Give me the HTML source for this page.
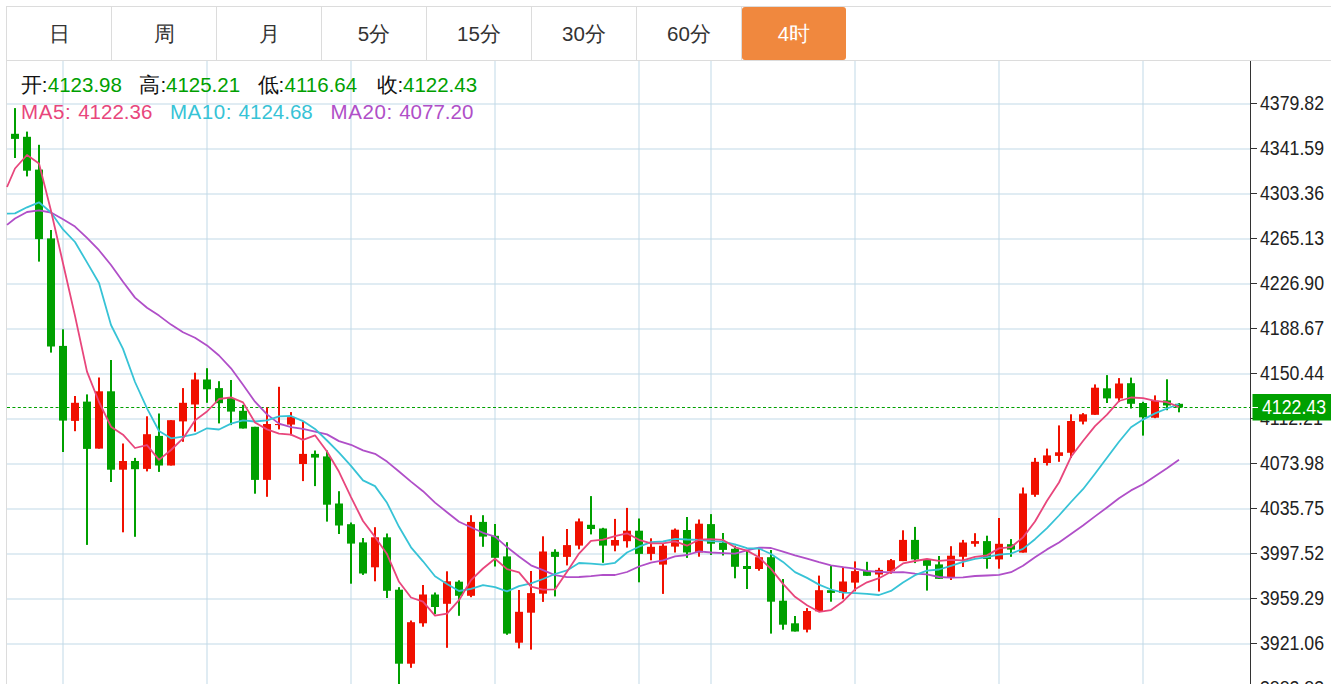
<!DOCTYPE html>
<html><head><meta charset="utf-8"><style>
html,body{margin:0;padding:0;background:#fff;width:1331px;height:684px;overflow:hidden;font-family:"Liberation Sans",sans-serif;}
.bar{position:absolute;left:6px;top:6px;width:1330px;height:53px;border:1px solid #dcdcdc;border-right:none;}
.tab{position:absolute;top:0;height:53px;width:104px;border-right:1px solid #dcdcdc;text-align:center;line-height:53px;font-size:20.5px;color:#333;}
.tab.on{background:#f0883e;color:#fff;border-radius:3px;border-right:none;top:0;height:53px;}
.chart{position:absolute;left:6px;top:60px;width:1325px;height:624px;border-left:1px solid #dcdcdc;}
svg{position:absolute;left:0;top:0;}
.ax{font-family:"Liberation Sans",sans-serif;font-size:18px;fill:#222;}
.lg{position:absolute;font-size:20.5px;line-height:24px;white-space:pre;}
</style></head><body>
<div class="bar"><div style="left:0px" class="tab">日</div><div style="left:105px" class="tab">周</div><div style="left:210px" class="tab">月</div><div style="left:315px" class="tab">5分</div><div style="left:420px" class="tab">15分</div><div style="left:525px" class="tab">30分</div><div style="left:630px" class="tab">60分</div><div style="left:735px" class="tab on">4时</div></div>
<div class="chart"></div>
<svg width="1331" height="684" viewBox="0 0 1331 684">
<line x1="7" y1="104" x2="1250" y2="104" stroke="#c1d9e7" stroke-width="1"/>
<line x1="7" y1="149" x2="1250" y2="149" stroke="#c1d9e7" stroke-width="1"/>
<line x1="7" y1="194" x2="1250" y2="194" stroke="#c1d9e7" stroke-width="1"/>
<line x1="7" y1="239" x2="1250" y2="239" stroke="#c1d9e7" stroke-width="1"/>
<line x1="7" y1="284" x2="1250" y2="284" stroke="#c1d9e7" stroke-width="1"/>
<line x1="7" y1="329" x2="1250" y2="329" stroke="#c1d9e7" stroke-width="1"/>
<line x1="7" y1="374" x2="1250" y2="374" stroke="#c1d9e7" stroke-width="1"/>
<line x1="7" y1="419" x2="1250" y2="419" stroke="#c1d9e7" stroke-width="1"/>
<line x1="7" y1="464" x2="1250" y2="464" stroke="#c1d9e7" stroke-width="1"/>
<line x1="7" y1="509" x2="1250" y2="509" stroke="#c1d9e7" stroke-width="1"/>
<line x1="7" y1="554" x2="1250" y2="554" stroke="#c1d9e7" stroke-width="1"/>
<line x1="7" y1="599" x2="1250" y2="599" stroke="#c1d9e7" stroke-width="1"/>
<line x1="7" y1="644" x2="1250" y2="644" stroke="#c1d9e7" stroke-width="1"/>
<line x1="7" y1="689" x2="1250" y2="689" stroke="#c1d9e7" stroke-width="1"/>
<line x1="63" y1="61" x2="63" y2="684" stroke="#c1d9e7" stroke-width="1"/>
<line x1="207" y1="61" x2="207" y2="684" stroke="#c1d9e7" stroke-width="1"/>
<line x1="351" y1="61" x2="351" y2="684" stroke="#c1d9e7" stroke-width="1"/>
<line x1="495" y1="61" x2="495" y2="684" stroke="#c1d9e7" stroke-width="1"/>
<line x1="639" y1="61" x2="639" y2="684" stroke="#c1d9e7" stroke-width="1"/>
<line x1="711" y1="61" x2="711" y2="684" stroke="#c1d9e7" stroke-width="1"/>
<line x1="855" y1="61" x2="855" y2="684" stroke="#c1d9e7" stroke-width="1"/>
<line x1="999" y1="61" x2="999" y2="684" stroke="#c1d9e7" stroke-width="1"/>
<line x1="1143" y1="61" x2="1143" y2="684" stroke="#c1d9e7" stroke-width="1"/>
<line x1="7" y1="407.5" x2="1250" y2="407.5" stroke="#00a000" stroke-width="1" stroke-dasharray="3,2.4"/>
<rect x="14" y="108.1" width="2" height="49.900000000000006" fill="#00a000"/>
<rect x="11" y="133.8" width="8" height="5.099999999999994" fill="#00a000"/>
<rect x="26" y="131.6" width="2" height="44.80000000000001" fill="#00a000"/>
<rect x="23" y="136.8" width="8" height="33.89999999999998" fill="#00a000"/>
<rect x="38" y="144.8" width="2" height="116.80000000000001" fill="#00a000"/>
<rect x="35" y="169.6" width="8" height="69.5" fill="#00a000"/>
<rect x="50" y="230" width="2" height="122.60000000000002" fill="#00a000"/>
<rect x="47" y="238.4" width="8" height="108.1" fill="#00a000"/>
<rect x="62" y="329.3" width="2" height="122.69999999999999" fill="#00a000"/>
<rect x="59" y="345.9" width="8" height="74.70000000000005" fill="#00a000"/>
<rect x="74" y="396" width="2" height="35.19999999999999" fill="#f01000"/>
<rect x="71" y="402.8" width="8" height="18.099999999999966" fill="#f01000"/>
<rect x="86" y="394.4" width="2" height="150.5" fill="#00a000"/>
<rect x="83" y="401.6" width="8" height="47.299999999999955" fill="#00a000"/>
<rect x="98" y="377.5" width="2" height="71.10000000000002" fill="#f01000"/>
<rect x="95" y="391.3" width="8" height="57.30000000000001" fill="#f01000"/>
<rect x="110" y="360" width="2" height="122" fill="#00a000"/>
<rect x="107" y="391.3" width="8" height="78.39999999999998" fill="#00a000"/>
<rect x="122" y="443.5" width="2" height="88.79999999999995" fill="#f01000"/>
<rect x="119" y="461" width="8" height="8.699999999999989" fill="#f01000"/>
<rect x="134" y="457.9" width="2" height="78.89999999999998" fill="#00a000"/>
<rect x="131" y="461" width="8" height="8.199999999999989" fill="#00a000"/>
<rect x="146" y="416.3" width="2" height="55.099999999999966" fill="#f01000"/>
<rect x="143" y="434.2" width="8" height="34.69999999999999" fill="#f01000"/>
<rect x="158" y="413.5" width="2" height="58.39999999999998" fill="#00a000"/>
<rect x="155" y="435.9" width="8" height="29.600000000000023" fill="#00a000"/>
<rect x="170" y="420.2" width="2" height="45.30000000000001" fill="#f01000"/>
<rect x="167" y="420.2" width="8" height="45.30000000000001" fill="#f01000"/>
<rect x="182" y="388.1" width="2" height="53.69999999999999" fill="#f01000"/>
<rect x="179" y="402.8" width="8" height="18.599999999999966" fill="#f01000"/>
<rect x="194" y="372.7" width="2" height="58.900000000000034" fill="#f01000"/>
<rect x="191" y="379.5" width="8" height="25.0" fill="#f01000"/>
<rect x="206" y="368.2" width="2" height="34.60000000000002" fill="#00a000"/>
<rect x="203" y="379.5" width="8" height="9.800000000000011" fill="#00a000"/>
<rect x="218" y="381.2" width="2" height="42.19999999999999" fill="#00a000"/>
<rect x="215" y="388.1" width="8" height="15.099999999999966" fill="#00a000"/>
<rect x="230" y="380" width="2" height="45.10000000000002" fill="#00a000"/>
<rect x="227" y="398.1" width="8" height="13.5" fill="#00a000"/>
<rect x="242" y="404.9" width="2" height="23.600000000000023" fill="#00a000"/>
<rect x="239" y="410.8" width="8" height="17.69999999999999" fill="#00a000"/>
<rect x="254" y="426.8" width="2" height="66.89999999999998" fill="#00a000"/>
<rect x="251" y="426.8" width="8" height="53.099999999999966" fill="#00a000"/>
<rect x="266" y="407.4" width="2" height="89.40000000000003" fill="#f01000"/>
<rect x="263" y="424" width="8" height="55.89999999999998" fill="#f01000"/>
<rect x="278" y="386.8" width="2" height="42.599999999999966" fill="#f01000"/>
<rect x="275" y="424" width="8" height="1.1000000000000227" fill="#f01000"/>
<rect x="290" y="412.1" width="2" height="23.19999999999999" fill="#f01000"/>
<rect x="287" y="417.2" width="8" height="7.400000000000034" fill="#f01000"/>
<rect x="302" y="421.8" width="2" height="59.30000000000001" fill="#f01000"/>
<rect x="299" y="453.9" width="8" height="10.100000000000023" fill="#f01000"/>
<rect x="314" y="450.5" width="2" height="35.60000000000002" fill="#00a000"/>
<rect x="311" y="453.9" width="8" height="3.7000000000000455" fill="#00a000"/>
<rect x="326" y="450.5" width="2" height="71.10000000000002" fill="#00a000"/>
<rect x="323" y="456.4" width="8" height="48.30000000000001" fill="#00a000"/>
<rect x="338" y="491.2" width="2" height="42.80000000000001" fill="#00a000"/>
<rect x="335" y="503.5" width="8" height="22.0" fill="#00a000"/>
<rect x="350" y="522.5" width="2" height="61.200000000000045" fill="#00a000"/>
<rect x="347" y="524.2" width="8" height="19.399999999999977" fill="#00a000"/>
<rect x="362" y="538" width="2" height="36.89999999999998" fill="#00a000"/>
<rect x="359" y="542.4" width="8" height="31.100000000000023" fill="#00a000"/>
<rect x="374" y="527.2" width="2" height="54.09999999999991" fill="#f01000"/>
<rect x="371" y="537.3" width="8" height="30.0" fill="#f01000"/>
<rect x="386" y="533.5" width="2" height="64.5" fill="#00a000"/>
<rect x="383" y="537.3" width="8" height="53.5" fill="#00a000"/>
<rect x="398" y="587.2" width="2" height="96.79999999999995" fill="#00a000"/>
<rect x="395" y="589.7" width="8" height="74.0" fill="#00a000"/>
<rect x="410" y="620.5" width="2" height="47.299999999999955" fill="#f01000"/>
<rect x="407" y="622.2" width="8" height="41.5" fill="#f01000"/>
<rect x="422" y="585" width="2" height="41.700000000000045" fill="#f01000"/>
<rect x="419" y="594.5" width="8" height="28.799999999999955" fill="#f01000"/>
<rect x="434" y="592.5" width="2" height="21.700000000000045" fill="#00a000"/>
<rect x="431" y="594.5" width="8" height="12.5" fill="#00a000"/>
<rect x="446" y="571.3" width="2" height="76.5" fill="#f01000"/>
<rect x="443" y="581.3" width="8" height="22.5" fill="#f01000"/>
<rect x="458" y="580.3" width="2" height="35.5" fill="#00a000"/>
<rect x="455" y="581.7" width="8" height="14.099999999999909" fill="#00a000"/>
<rect x="470" y="515.2" width="2" height="82.0" fill="#f01000"/>
<rect x="467" y="521.9" width="8" height="73.89999999999998" fill="#f01000"/>
<rect x="482" y="515.2" width="2" height="31.59999999999991" fill="#00a000"/>
<rect x="479" y="521.9" width="8" height="14.700000000000045" fill="#00a000"/>
<rect x="494" y="524" width="2" height="42.5" fill="#00a000"/>
<rect x="491" y="535.8" width="8" height="22.0" fill="#00a000"/>
<rect x="506" y="542.2" width="2" height="92.59999999999991" fill="#00a000"/>
<rect x="503" y="556.4" width="8" height="77.20000000000005" fill="#00a000"/>
<rect x="518" y="590" width="2" height="58.39999999999998" fill="#f01000"/>
<rect x="515" y="611.8" width="8" height="30.90000000000009" fill="#f01000"/>
<rect x="530" y="571" width="2" height="78.60000000000002" fill="#f01000"/>
<rect x="527" y="593.1" width="8" height="19.600000000000023" fill="#f01000"/>
<rect x="542" y="536.3" width="2" height="65.60000000000002" fill="#f01000"/>
<rect x="539" y="551.5" width="8" height="42.200000000000045" fill="#f01000"/>
<rect x="554" y="549.3" width="2" height="47.10000000000002" fill="#00a000"/>
<rect x="551" y="551.8" width="8" height="5.100000000000023" fill="#00a000"/>
<rect x="566" y="529" width="2" height="36.39999999999998" fill="#f01000"/>
<rect x="563" y="545.1" width="8" height="11.799999999999955" fill="#f01000"/>
<rect x="578" y="518.5" width="2" height="30.799999999999955" fill="#f01000"/>
<rect x="575" y="521.4" width="8" height="24.200000000000045" fill="#f01000"/>
<rect x="590" y="496.1" width="2" height="38.299999999999955" fill="#00a000"/>
<rect x="587" y="524.8" width="8" height="4.2000000000000455" fill="#00a000"/>
<rect x="602" y="527.8" width="2" height="35.0" fill="#00a000"/>
<rect x="599" y="528.5" width="8" height="17.100000000000023" fill="#00a000"/>
<rect x="614" y="518.9" width="2" height="32.39999999999998" fill="#f01000"/>
<rect x="611" y="540" width="8" height="5.600000000000023" fill="#f01000"/>
<rect x="626" y="507.9" width="2" height="39.700000000000045" fill="#f01000"/>
<rect x="623" y="530.7" width="8" height="10.5" fill="#f01000"/>
<rect x="638" y="518.5" width="2" height="63.799999999999955" fill="#00a000"/>
<rect x="635" y="530.7" width="8" height="23.199999999999932" fill="#00a000"/>
<rect x="650" y="538.3" width="2" height="22.0" fill="#f01000"/>
<rect x="647" y="546.8" width="8" height="7.100000000000023" fill="#f01000"/>
<rect x="662" y="544" width="2" height="49.89999999999998" fill="#f01000"/>
<rect x="659" y="545.7" width="8" height="18.899999999999977" fill="#f01000"/>
<rect x="674" y="528.5" width="2" height="24.0" fill="#f01000"/>
<rect x="671" y="529.7" width="8" height="16.899999999999977" fill="#f01000"/>
<rect x="686" y="517" width="2" height="40.89999999999998" fill="#00a000"/>
<rect x="683" y="530" width="8" height="22.5" fill="#00a000"/>
<rect x="698" y="519.5" width="2" height="37.200000000000045" fill="#f01000"/>
<rect x="695" y="523.7" width="8" height="28.799999999999955" fill="#f01000"/>
<rect x="710" y="514.1" width="2" height="40.89999999999998" fill="#00a000"/>
<rect x="707" y="524.1" width="8" height="19.600000000000023" fill="#00a000"/>
<rect x="722" y="533" width="2" height="22.5" fill="#00a000"/>
<rect x="719" y="542.8" width="8" height="7.100000000000023" fill="#00a000"/>
<rect x="734" y="545.7" width="2" height="32.59999999999991" fill="#00a000"/>
<rect x="731" y="548.8" width="8" height="18.0" fill="#00a000"/>
<rect x="746" y="550.8" width="2" height="38.200000000000045" fill="#00a000"/>
<rect x="743" y="566" width="8" height="3" fill="#00a000"/>
<rect x="758" y="548.8" width="2" height="21.90000000000009" fill="#f01000"/>
<rect x="755" y="557.2" width="8" height="11.799999999999955" fill="#f01000"/>
<rect x="770" y="550" width="2" height="83.60000000000002" fill="#00a000"/>
<rect x="767" y="557.2" width="8" height="44.5" fill="#00a000"/>
<rect x="782" y="579" width="2" height="50.700000000000045" fill="#00a000"/>
<rect x="779" y="600.7" width="8" height="24.0" fill="#00a000"/>
<rect x="794" y="616" width="2" height="15.5" fill="#00a000"/>
<rect x="791" y="623.3" width="8" height="8.200000000000045" fill="#00a000"/>
<rect x="806" y="608.1" width="2" height="24.299999999999955" fill="#f01000"/>
<rect x="803" y="611" width="8" height="18.700000000000045" fill="#f01000"/>
<rect x="818" y="575.6" width="2" height="35.69999999999993" fill="#f01000"/>
<rect x="815" y="590.2" width="8" height="21.09999999999991" fill="#f01000"/>
<rect x="830" y="565.7" width="2" height="36.0" fill="#00a000"/>
<rect x="827" y="590.2" width="8" height="2.699999999999932" fill="#00a000"/>
<rect x="842" y="566.8" width="2" height="32.40000000000009" fill="#f01000"/>
<rect x="839" y="581.5" width="8" height="11.399999999999977" fill="#f01000"/>
<rect x="854" y="561.4" width="2" height="29.899999999999977" fill="#f01000"/>
<rect x="851" y="571.1" width="8" height="11.5" fill="#f01000"/>
<rect x="866" y="561.8" width="2" height="14.0" fill="#00a000"/>
<rect x="863" y="571.1" width="8" height="4.699999999999932" fill="#00a000"/>
<rect x="878" y="567.8" width="2" height="23.700000000000045" fill="#f01000"/>
<rect x="875" y="569.9" width="8" height="4.600000000000023" fill="#f01000"/>
<rect x="890" y="559" width="2" height="14.700000000000045" fill="#f01000"/>
<rect x="887" y="560.2" width="8" height="11.0" fill="#f01000"/>
<rect x="902" y="530.3" width="2" height="30.800000000000068" fill="#f01000"/>
<rect x="899" y="539.9" width="8" height="21.200000000000045" fill="#f01000"/>
<rect x="914" y="526.9" width="2" height="36.200000000000045" fill="#00a000"/>
<rect x="911" y="539.9" width="8" height="19.5" fill="#00a000"/>
<rect x="926" y="559.4" width="2" height="31.200000000000045" fill="#00a000"/>
<rect x="923" y="559.4" width="8" height="6.399999999999977" fill="#00a000"/>
<rect x="938" y="556" width="2" height="22.799999999999955" fill="#00a000"/>
<rect x="935" y="564.4" width="8" height="14.399999999999977" fill="#00a000"/>
<rect x="950" y="546.2" width="2" height="33.799999999999955" fill="#f01000"/>
<rect x="947" y="555.7" width="8" height="21.899999999999977" fill="#f01000"/>
<rect x="962" y="539.9" width="2" height="27.100000000000023" fill="#f01000"/>
<rect x="959" y="542.5" width="8" height="14.299999999999955" fill="#f01000"/>
<rect x="974" y="533.2" width="2" height="13.5" fill="#f01000"/>
<rect x="971" y="541.1" width="8" height="2.699999999999932" fill="#f01000"/>
<rect x="986" y="535.7" width="2" height="33.0" fill="#00a000"/>
<rect x="983" y="541.1" width="8" height="17.899999999999977" fill="#00a000"/>
<rect x="998" y="518" width="2" height="50.700000000000045" fill="#f01000"/>
<rect x="995" y="543.8" width="8" height="15.600000000000023" fill="#f01000"/>
<rect x="1010" y="539.1" width="2" height="17.699999999999932" fill="#00a000"/>
<rect x="1007" y="544.2" width="8" height="5.399999999999977" fill="#00a000"/>
<rect x="1022" y="487.5" width="2" height="65.10000000000002" fill="#f01000"/>
<rect x="1019" y="493.5" width="8" height="59.10000000000002" fill="#f01000"/>
<rect x="1034" y="457.9" width="2" height="38.900000000000034" fill="#f01000"/>
<rect x="1031" y="461.8" width="8" height="33.0" fill="#f01000"/>
<rect x="1046" y="448.6" width="2" height="16.899999999999977" fill="#f01000"/>
<rect x="1043" y="455.4" width="8" height="7.600000000000023" fill="#f01000"/>
<rect x="1058" y="425.4" width="2" height="36.400000000000034" fill="#f01000"/>
<rect x="1055" y="452.3" width="8" height="3.599999999999966" fill="#f01000"/>
<rect x="1070" y="414.3" width="2" height="43.599999999999966" fill="#f01000"/>
<rect x="1067" y="421" width="8" height="31.80000000000001" fill="#f01000"/>
<rect x="1082" y="413.1" width="2" height="11.299999999999955" fill="#f01000"/>
<rect x="1079" y="414.3" width="8" height="7.300000000000011" fill="#f01000"/>
<rect x="1094" y="384.4" width="2" height="30.400000000000034" fill="#f01000"/>
<rect x="1091" y="387.7" width="8" height="27.100000000000023" fill="#f01000"/>
<rect x="1106" y="375.1" width="2" height="27.899999999999977" fill="#00a000"/>
<rect x="1103" y="388.3" width="8" height="10.099999999999966" fill="#00a000"/>
<rect x="1118" y="378.1" width="2" height="24.0" fill="#f01000"/>
<rect x="1115" y="383.5" width="8" height="14.899999999999977" fill="#f01000"/>
<rect x="1130" y="377.6" width="2" height="30.899999999999977" fill="#00a000"/>
<rect x="1127" y="383.2" width="8" height="20.600000000000023" fill="#00a000"/>
<rect x="1142" y="401.8" width="2" height="33.80000000000001" fill="#00a000"/>
<rect x="1139" y="403" width="8" height="14.300000000000011" fill="#00a000"/>
<rect x="1154" y="395.4" width="2" height="22.80000000000001" fill="#f01000"/>
<rect x="1151" y="400.8" width="8" height="16.899999999999977" fill="#f01000"/>
<rect x="1166" y="379.3" width="2" height="30.899999999999977" fill="#00a000"/>
<rect x="1163" y="400.4" width="8" height="5.100000000000023" fill="#00a000"/>
<rect x="1178" y="403" width="2" height="9.300000000000011" fill="#00a000"/>
<rect x="1175" y="403.8" width="8" height="3.6999999999999886" fill="#00a000"/>
<polyline points="7,224.9 15,218.5 27,212 39,210.3 51,212.5 63,219.3 75,226.6 87,237.9 99,250.2 111,265 123,281.8 135,297.6 147,307.7 159,315.6 171,324.6 183,332.2 195,337.7 207,345.4 219,355.5 231,368.3 243,384.7 255,401.7 267,414.4 279,423.6 291,427.2 303,428.8 315,431.6 327,434.4 339,441.1 351,444.8 363,450.4 375,453.8 387,461.6 399,471.5 411,481.6 423,491.2 435,502.6 447,512.2 459,521.8 471,527.3 483,532.8 495,536.6 507,547.1 519,556.5 531,565.3 543,570.2 555,575.2 567,577.2 579,577.0 591,576.2 603,574.8 615,575.0 627,572.0 639,566.5 651,562.7 663,560.3 675,556.4 687,555.0 699,551.4 711,552.5 723,553.1 735,553.6 747,550.3 759,547.6 771,548.0 783,551.7 795,555.4 807,558.7 819,562.2 831,565.4 843,567.2 855,568.7 867,571.0 879,571.8 891,572.4 903,572.1 915,573.6 927,574.3 939,577.0 951,577.6 963,577.3 975,576.0 987,575.5 999,574.8 1011,572.2 1023,565.7 1035,557.2 1047,549.4 1059,542.5 1071,533.9 1083,525.5 1095,516.4 1107,507.5 1119,498.2 1131,490.4 1143,484.2 1155,476.3 1167,468.3 1179,459.7" fill="none" stroke="#b04fc8" stroke-width="1.8" stroke-linejoin="round"/>
<polyline points="7,213.7 15,213.4 27,207.3 39,202.3 51,212.5 63,229.4 75,242 87,262.4 99,283 111,325 123,348.9 135,382.0 147,408.3 159,431.0 171,438.3 183,436.6 195,434.2 207,428.3 219,429.5 231,423.6 243,420.4 255,421.5 267,420.4 279,416.3 291,416.0 303,421.1 315,428.9 327,440.5 339,452.7 351,465.9 363,480.4 375,486.1 387,502.8 399,526.8 411,547.3 423,561.3 435,576.3 447,583.9 459,591.0 471,588.8 483,585.1 495,587.2 507,591.4 519,586.2 531,583.3 543,579.0 555,574.0 567,570.4 579,563.0 591,563.7 603,564.6 615,562.8 627,552.5 639,546.7 651,542.1 663,541.5 675,538.8 687,539.5 699,539.8 711,541.2 723,541.7 735,544.3 747,548.2 759,548.5 771,554.0 783,561.9 795,572.1 807,577.9 819,584.6 831,589.5 843,592.6 855,593.1 867,593.8 879,595.0 891,590.9 903,582.4 915,575.2 927,570.7 939,569.5 951,565.8 963,561.9 975,558.9 987,557.2 999,554.6 1011,553.6 1023,548.9 1035,539.2 1047,528.1 1059,515.5 1071,502.0 1083,489.2 1095,473.8 1107,457.8 1119,441.8 1131,427.2 1143,419.6 1155,413.4 1167,408.5 1179,404.0" fill="none" stroke="#37c3d6" stroke-width="1.8" stroke-linejoin="round"/>
<polyline points="7,187 15,168.5 27,155 39,163.4 51,210.8 63,263.2 75,315.9 87,371.6 99,402.0 111,426.7 123,434.7 135,448.0 147,445.1 159,459.9 171,450.0 183,438.4 195,420.4 207,411.5 219,399.0 231,397.3 243,402.4 255,422.5 267,429.4 279,433.6 291,434.7 303,439.8 315,435.3 327,451.5 339,471.8 351,497.1 363,521.0 375,536.9 387,554.1 399,581.8 411,597.5 423,601.7 435,615.6 447,613.7 459,600.2 471,580.1 483,568.5 495,558.7 507,569.1 519,572.3 531,586.6 543,589.6 555,589.4 567,571.7 579,553.6 591,540.8 603,539.6 615,536.2 627,533.3 639,539.8 651,543.4 663,543.4 675,541.4 687,545.7 699,539.7 711,539.1 723,539.9 735,547.3 747,550.6 759,557.3 771,568.9 783,583.9 795,596.8 807,605.2 819,611.8 831,610.1 843,601.4 855,589.3 867,582.3 879,578.2 891,571.7 903,563.4 915,561.0 927,559.0 939,560.8 951,559.9 963,560.4 975,556.8 987,555.4 999,548.4 1011,547.2 1023,537.4 1035,521.5 1047,500.8 1059,482.5 1071,456.8 1083,441.0 1095,426.1 1107,414.7 1119,401.0 1131,397.5 1143,398.1 1155,400.8 1167,402.2 1179,407.0" fill="none" stroke="#e8467c" stroke-width="1.8" stroke-linejoin="round"/>
<line x1="1250.5" y1="61" x2="1250.5" y2="684" stroke="#333" stroke-width="1"/>
<line x1="1251" y1="103.5" x2="1257" y2="103.5" stroke="#333" stroke-width="1"/>
<text transform="translate(1260,110) scale(0.985,1.08)" class="ax">4379.82</text>
<line x1="1251" y1="148.5" x2="1257" y2="148.5" stroke="#333" stroke-width="1"/>
<text transform="translate(1260,155) scale(0.985,1.08)" class="ax">4341.59</text>
<line x1="1251" y1="193.5" x2="1257" y2="193.5" stroke="#333" stroke-width="1"/>
<text transform="translate(1260,200) scale(0.985,1.08)" class="ax">4303.36</text>
<line x1="1251" y1="238.5" x2="1257" y2="238.5" stroke="#333" stroke-width="1"/>
<text transform="translate(1260,245) scale(0.985,1.08)" class="ax">4265.13</text>
<line x1="1251" y1="283.5" x2="1257" y2="283.5" stroke="#333" stroke-width="1"/>
<text transform="translate(1260,290) scale(0.985,1.08)" class="ax">4226.90</text>
<line x1="1251" y1="328.5" x2="1257" y2="328.5" stroke="#333" stroke-width="1"/>
<text transform="translate(1260,335) scale(0.985,1.08)" class="ax">4188.67</text>
<line x1="1251" y1="373.5" x2="1257" y2="373.5" stroke="#333" stroke-width="1"/>
<text transform="translate(1260,380) scale(0.985,1.08)" class="ax">4150.44</text>
<line x1="1251" y1="418.5" x2="1257" y2="418.5" stroke="#333" stroke-width="1"/>
<text transform="translate(1260,425) scale(0.985,1.08)" class="ax">4112.21</text>
<line x1="1251" y1="463.5" x2="1257" y2="463.5" stroke="#333" stroke-width="1"/>
<text transform="translate(1260,470) scale(0.985,1.08)" class="ax">4073.98</text>
<line x1="1251" y1="508.5" x2="1257" y2="508.5" stroke="#333" stroke-width="1"/>
<text transform="translate(1260,515) scale(0.985,1.08)" class="ax">4035.75</text>
<line x1="1251" y1="553.5" x2="1257" y2="553.5" stroke="#333" stroke-width="1"/>
<text transform="translate(1260,560) scale(0.985,1.08)" class="ax">3997.52</text>
<line x1="1251" y1="598.5" x2="1257" y2="598.5" stroke="#333" stroke-width="1"/>
<text transform="translate(1260,605) scale(0.985,1.08)" class="ax">3959.29</text>
<line x1="1251" y1="643.5" x2="1257" y2="643.5" stroke="#333" stroke-width="1"/>
<text transform="translate(1260,650) scale(0.985,1.08)" class="ax">3921.06</text>
<line x1="1251" y1="688.5" x2="1257" y2="688.5" stroke="#333" stroke-width="1"/>
<text transform="translate(1260,695) scale(0.985,1.08)" class="ax">3882.83</text>
<rect x="1252.5" y="394" width="79" height="26.5" fill="#00a000"/>
<line x1="1251" y1="407.5" x2="1258" y2="407.5" stroke="#fff" stroke-width="1"/>
<text transform="translate(1262,414) scale(0.985,1.08)" class="ax" style="fill:#fff">4122.43</text>
</svg>
<div class="lg" style="left:20.8px;top:72.5px;color:#111">开:</div>
<div class="lg" style="left:47.8px;top:72.5px;color:#00a000">4123.98</div>
<div class="lg" style="left:139.4px;top:72.5px;color:#111">高:</div>
<div class="lg" style="left:166px;top:72.5px;color:#00a000">4125.21</div>
<div class="lg" style="left:257.6px;top:72.5px;color:#111">低:</div>
<div class="lg" style="left:284.6px;top:72.5px;color:#00a000">4116.64</div>
<div class="lg" style="left:376.6px;top:72.5px;color:#111">收:</div>
<div class="lg" style="left:403px;top:72.5px;color:#00a000">4122.43</div>
<div class="lg" style="left:21.1px;top:99.5px;color:#e8467c;letter-spacing:0.6px">MA5:</div>
<div class="lg" style="left:78.2px;top:99.5px;color:#e8467c">4122.36</div>
<div class="lg" style="left:169.9px;top:99.5px;color:#37c3d6;letter-spacing:0.6px">MA10:</div>
<div class="lg" style="left:238.6px;top:99.5px;color:#37c3d6">4124.68</div>
<div class="lg" style="left:330.5px;top:99.5px;color:#b04fc8;letter-spacing:0.6px">MA20:</div>
<div class="lg" style="left:399.2px;top:99.5px;color:#b04fc8">4077.20</div>
</body></html>
